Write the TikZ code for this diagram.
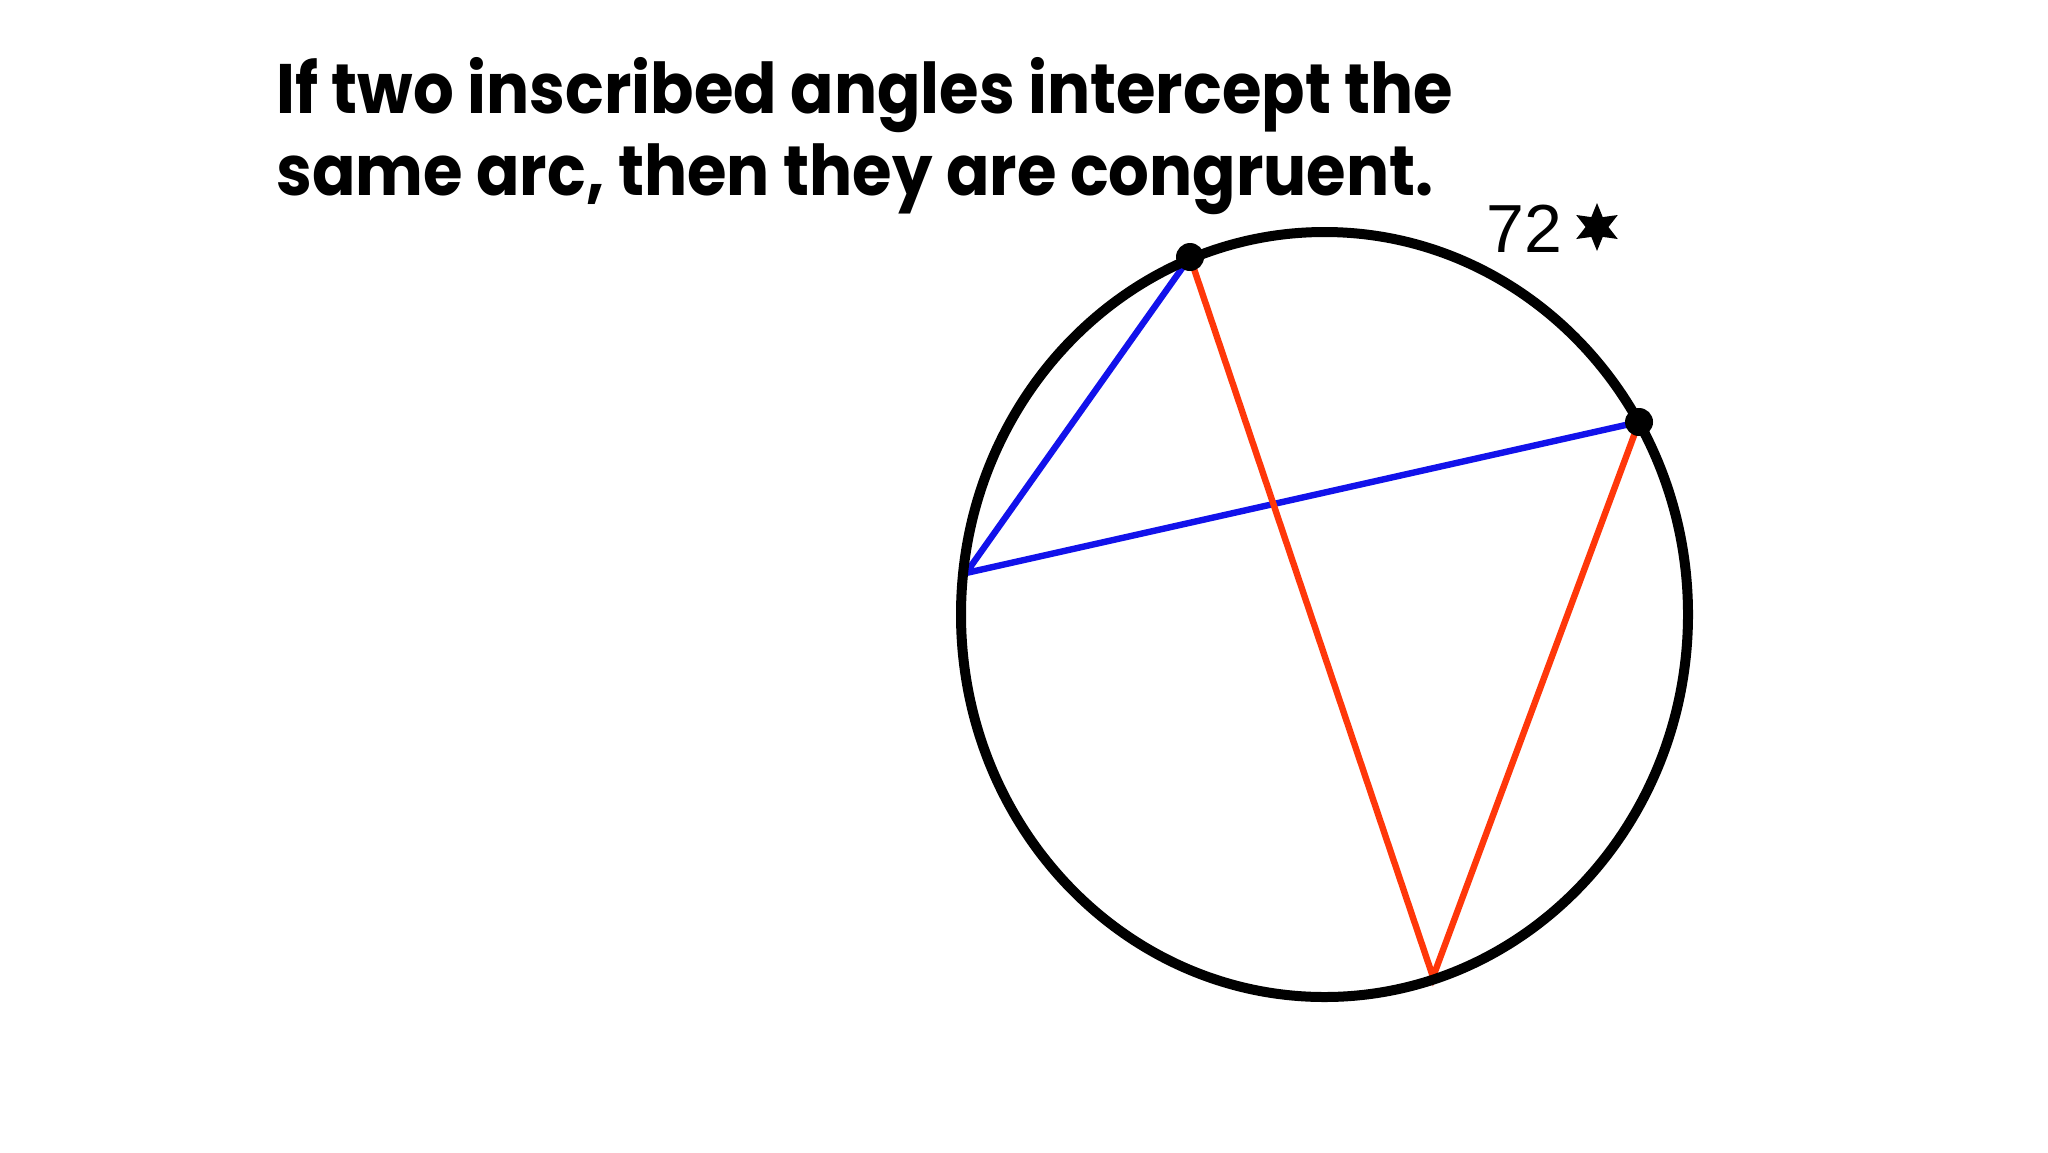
\documentclass[tikz,border=0pt]{standalone}
\usepackage{fontspec}
\usetikzlibrary{shapes.geometric}
\newfontfamily\titlefont{Poppins}[FakeStretch=0.915]
\newfontfamily\handfont{Liberation Sans}
\definecolor{blueL}{RGB}{18,18,235}
\definecolor{redL}{RGB}{255,55,10}
\tikzset{
  rim/.style={line width=5pt, black},
  bluechord/.style={line width=3.2pt, blueL, line cap=round},
  redchord/.style={line width=3.2pt, redL, line cap=round},
  dot/.style={circle, fill=black, inner sep=0pt, minimum size=14pt},
  title/.style={anchor=base west, inner sep=0pt, font=\titlefont\bfseries\fontsize{35}{40}\selectfont},
}
\begin{document}
\begin{tikzpicture}[x=0.5pt, y=-0.5pt]
\useasboundingbox (0,0) rectangle (2048,1152);
\fill[white] (0,0) rectangle (2048,1152);
% text
\node[title] (l1) at (276,113) {If two inscribed angles intercept the};
\node[title] (l2) at (276,195) {same arc, then they are congruent.};
% points
\coordinate (A) at (1190,257);
\coordinate (B) at (1639,422);
\coordinate (C) at (966,573);
\coordinate (D) at (1433,977);
% chords
\draw[bluechord] (A) -- (C) -- (B);
\draw[redchord] (A) -- (D) -- (B);
% circle
\draw[rim] (1324.5,614.5) ellipse [x radius=363.5, y radius=382.5];
% dots
\node[dot] (dA) at (A) {};
\node[dot] (dB) at (B) {};
% label
\node[anchor=base west, inner sep=0pt, font=\handfont\fontsize{34}{40}\selectfont] (lab) at (1486,252) {72};
\node[star, star points=6, star point ratio=2.1, fill=black, inner sep=0pt, minimum size=24pt] (st) at (1597,227) {};
\end{tikzpicture}
\end{document}
